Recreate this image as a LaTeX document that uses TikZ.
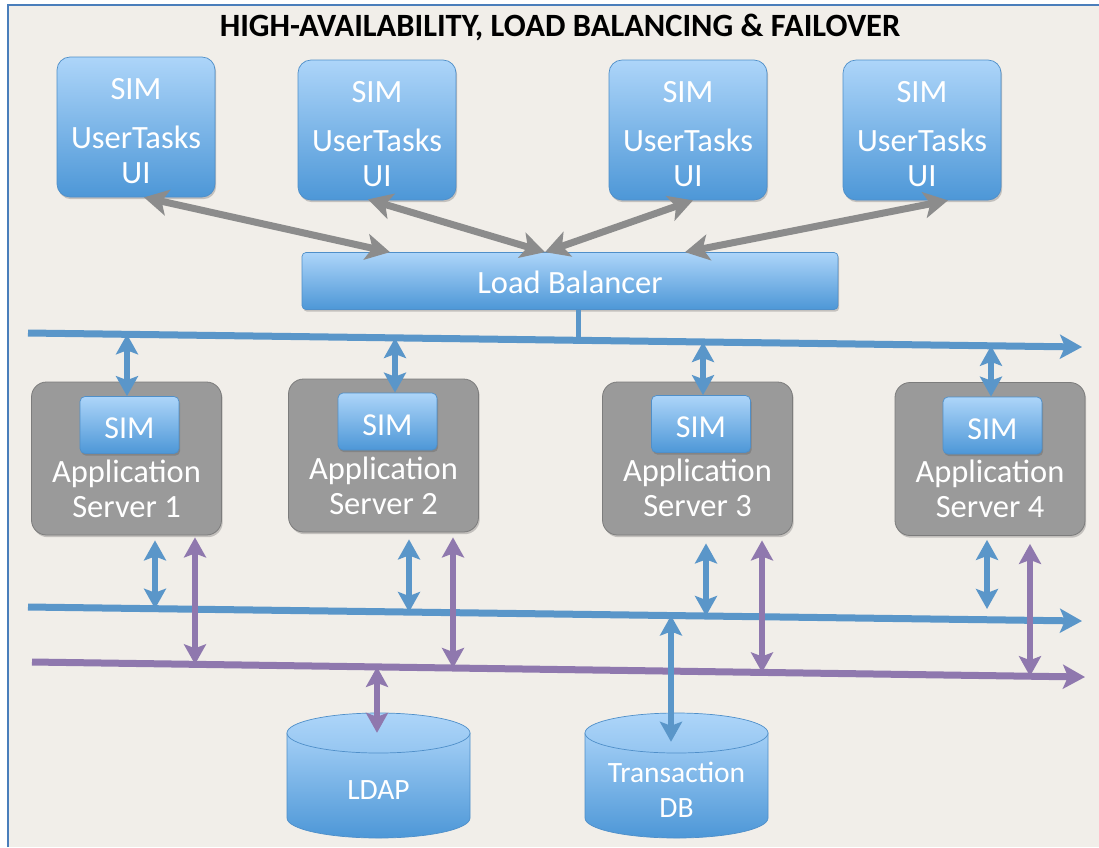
\documentclass[tikz,border=0pt]{standalone}
\usepackage{fontspec}
\setmainfont{Carlito}
\usetikzlibrary{arrows.meta,calc,shadows}

\definecolor{pagebg}{HTML}{F1EEE9}
\definecolor{frameblue}{HTML}{4A7EBB}
\definecolor{bluetop}{HTML}{ADD5F9}
\definecolor{bluebot}{HTML}{4D97D7}
\definecolor{blueedge}{HTML}{4F8FC9}
\definecolor{busblue}{HTML}{5A96C9}
\definecolor{buspurple}{HTML}{8F78AE}
\definecolor{linkgray}{HTML}{8C8C8C}
\definecolor{srvgray}{HTML}{9A9A9A}
\definecolor{srvedge}{HTML}{7C7C7C}

\tikzset{
  softshadow/.style={drop shadow={shadow xshift=1.2pt, shadow yshift=-2.2pt, opacity=0.28, fill=black!70}},
  bluebox/.style={rectangle, draw=blueedge, line width=0.7pt, top color=bluetop, bottom color=bluebot,
    text=white, align=center, inner sep=0pt, softshadow},
  uibox/.style={bluebox, rounded corners=13pt, minimum width=158pt, minimum height=140pt},
  uitext/.style={text=white, align=center, inner sep=0pt, font=\fontsize{32.5}{35}\selectfont},
  lbbox/.style={bluebox, rounded corners=4pt, minimum width=536pt, minimum height=57pt,
    font=\fontsize{32.5}{35}\selectfont, text height=25pt, text depth=0pt},
  simbox/.style={bluebox, rounded corners=5pt, minimum width=99pt, minimum height=57pt,
    font=\fontsize{32}{35}\selectfont, text height=27pt, text depth=0pt},
  srvbox/.style={rectangle, rounded corners=15pt, draw=srvedge, line width=0.8pt, fill=srvgray,
    minimum width=190pt, minimum height=153pt, inner sep=0pt, softshadow},
  srvtext/.style={text=white, align=center, inner sep=0pt, font=\fontsize{32.5}{35}\selectfont},
  dbarea/.style={rectangle, inner sep=0pt, minimum width=183pt, minimum height=125pt},
  dbtext/.style={text=white, align=center, inner sep=0pt, font=\fontsize{29.5}{35}\selectfont},
  cylbody/.style={draw=blueedge, line width=0.7pt, top color=bluetop!90!bluebot, bottom color=bluebot},
  cyltop/.style={draw=blueedge, line width=0.7pt, top color=bluetop, bottom color=bluetop!75!bluebot},
  bus/.style={line width=7pt, -{Stealth[length=22pt,width=24pt,inset=5pt]}},
  bluebus/.style={bus, draw=busblue},
  purplebus/.style={bus, draw=buspurple},
  twoway/.style={{Stealth[length=20pt,width=22pt,inset=4pt]}-{Stealth[length=20pt,width=22pt,inset=4pt]}},
  bluelink/.style={twoway, draw=busblue, line width=6.5pt},
  purplelink/.style={twoway, draw=buspurple, line width=6pt},
  graylink/.style={{Stealth[length=24pt,width=26pt,inset=6pt]}-{Stealth[length=24pt,width=26pt,inset=6pt]},
    draw=linkgray, line width=7pt},
}

\begin{document}
\begin{tikzpicture}[x=1pt,y=-1pt]
  % page and frame
  \useasboundingbox (0,0) rectangle (1099,847);
  \fill[white] (0,0) rectangle (1099,847);
  \fill[pagebg] (8,5) rectangle (1099,847);
  \draw[frameblue, line width=2.5pt] (8,847) -- (8,5) -- (1099,5);

  % title
  \node[font=\bfseries\fontsize{32.5}{36}\selectfont] (title) at (560,27)
    {HIGH-AVAILABILITY, LOAD BALANCING \& FAILOVER};

  % user interface clients
  \node[uibox] (u1) at (136,127) {};
  \node[uibox] (u2) at (377,130) {};
  \node[uibox] (u3) at (688,130) {};
  \node[uibox] (u4) at (922,130) {};
  \node[uitext] (u1t) at (136,131) {SIM\\[14pt]UserTasks\\UI};
  \node[uitext] (u2t) at (377,134) {SIM\\[14pt]UserTasks\\UI};
  \node[uitext] (u3t) at (688,134) {SIM\\[14pt]UserTasks\\UI};
  \node[uitext] (u4t) at (922,134) {SIM\\[14pt]UserTasks\\UI};

  % load balancer
  \node[lbbox] (lb) at (570,281) {Load Balancer};

  % application servers
  \node[srvbox] (s1) at (126.5,458.5) {};
  \node[srvbox] (s2) at (383.5,455.5) {};
  \node[srvbox] (s3) at (697.5,458.5) {};
  \node[srvbox] (s4) at (990,459) {};
  \node[simbox] (m1) at (129.5,425) {SIM};
  \node[simbox] (m2) at (387.5,421.5) {SIM};
  \node[simbox] (m3) at (701,424) {SIM};
  \node[simbox] (m4) at (992.5,425.5) {SIM};
  \node[srvtext] (t1) at (126.5,489) {Application\\Server 1};
  \node[srvtext] (t2) at (383.5,485.5) {Application\\Server 2};
  \node[srvtext] (t3) at (697.5,487.5) {Application\\Server 3};
  \node[srvtext] (t4) at (990,489) {Application\\Server 4};

  % databases
  \foreach \cx in {378.5, 676.5} {
    \path[cylbody] (\cx-91.5,733) -- (\cx-91.5,818)
      arc[start angle=180, end angle=0, x radius=91.5, y radius=20]
      -- (\cx+91.5,733) -- cycle;
    \path[cyltop] (\cx,733) ellipse [x radius=91.5, y radius=20];
  }
  \node[dbarea] (ldap) at (378.5,775.5) {};
  \node[dbarea] (db) at (676.5,775.5) {};
  \node[dbtext] (ldapt) at (378.5,790) {LDAP};
  \node[dbtext] (dbt) at (676.5,790) {Transaction\\DB};

  % bus end points
  \coordinate (b1w) at (28,333);   \coordinate (b1e) at (1082,347);
  \coordinate (b2w) at (28,607);   \coordinate (b2e) at (1082,621);
  \coordinate (pw)  at (32,662);   \coordinate (pe)  at (1085,677);

  % taps on the buses
  \coordinate (b1lb) at (578,340.3);
  \coordinate (b1a) at (127,334.3);
  \coordinate (b1b) at (395,338);
  \coordinate (b1c) at (703,342);
  \coordinate (b1d) at (991,345.8);
  \coordinate (b2a) at (155,608.7);
  \coordinate (b2b) at (409,612);
  \coordinate (b2c) at (706,616);
  \coordinate (b2d) at (987,609);
  \coordinate (b2t) at (671,615.5);
  \coordinate (pa) at (195,664.3);
  \coordinate (pb) at (453,668);
  \coordinate (pc) at (762,672.4);
  \coordinate (pd) at (1030,676.2);
  \coordinate (pl) at (377,666.9);

  % clients to load balancer
  \draw[graylink] ($(u1.south)+(8,0)$) -- ($(lb.north)+(-180,0)$);
  \draw[graylink] ($(u2.south)+(-9,-1)$) -- ($(lb.north)+(-25,0)$);
  \draw[graylink] ($(u3.south)+(5,0)$) -- ($(lb.north)+(-25,0)$);
  \draw[graylink] ($(u4.south)+(26,0)$) -- ($(lb.north)+(115,0)$);

  % networks
  \draw[bluebus] (b1w) -- (b1e);
  \draw[busblue, line width=5pt] ($(lb.south)+(8,0)$) -- (b1lb);
  \draw[bluebus] (b2w) -- (b2e);
  \draw[purplebus] (pw) -- (pe);

  % front network to servers
  \draw[bluelink] (b1a) -- (b1a |- m1.north);
  \draw[bluelink] (b1b) -- (b1b |- m2.north);
  \draw[bluelink] (b1c) -- (b1c |- m3.north);
  \draw[bluelink] (b1d) -- (b1d |- m4.north);

  % servers to back networks
  \draw[bluelink] ($(b2a |- s1.south)+(0,5)$) -- (b2a);
  \draw[bluelink] ($(b2b |- s2.south)+(0,7)$) -- (b2b);
  \draw[bluelink] ($(b2c |- s3.south)+(0,8)$) -- (b2c);
  \draw[bluelink] ($(b2d |- s4.south)+(0,4)$) -- (b2d);
  \draw[purplelink] ($(pa |- s1.south)+(0,2)$) -- (pa);
  \draw[purplelink] ($(pb |- s2.south)+(0,5)$) -- (pb);
  \draw[purplelink] ($(pc |- s3.south)+(0,5)$) -- (pc);
  \draw[purplelink] ($(pd |- s4.south)+(0,8)$) -- (pd);

  % back networks to databases
  \draw[purplelink] (pl) -- (pl |- {$(ldap.north)+(0,20)$});
  \draw[bluelink] (b2t) -- (b2t |- {$(db.north)+(0,29)$});
\end{tikzpicture}
\end{document}
